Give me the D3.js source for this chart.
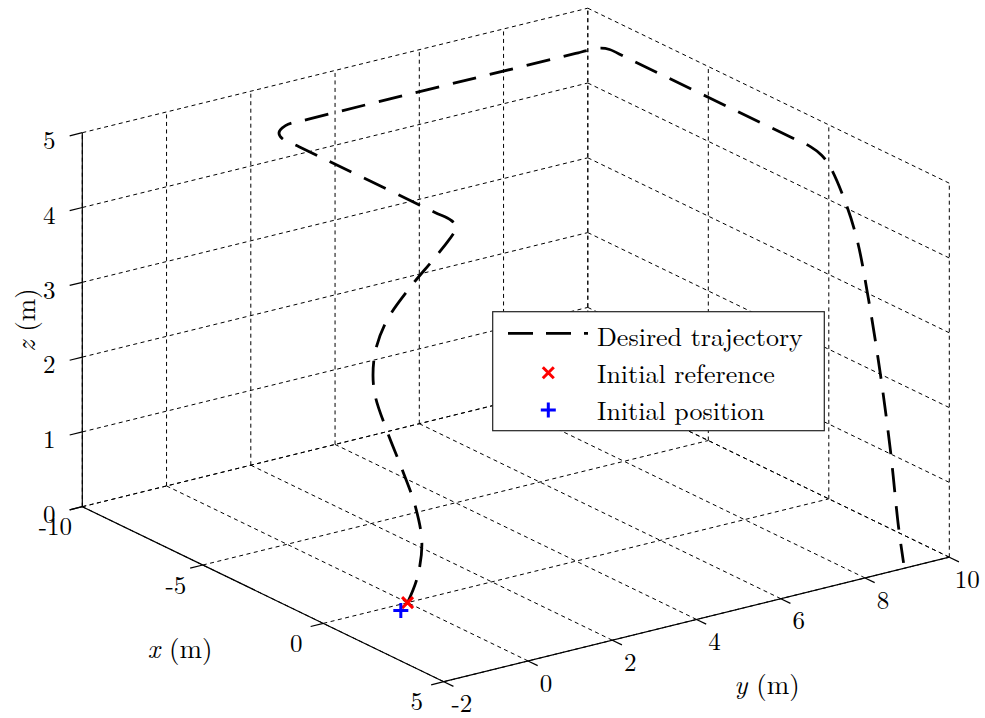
<!DOCTYPE html>
<html>
<head>
<meta charset="utf-8">
<script src="https://cdn.jsdelivr.net/npm/d3@7/dist/d3.min.js"></script>
<style>
body { margin: 0; background: #fff; }
svg text { font-family: "Latin Modern Roman", "CMU Serif", "Liberation Serif", "Tinos", "Noto Serif", "Nimbus Roman", "FreeSerif", "DejaVu Serif", serif; fill: #000; }
</style>
</head>
<body>
<div id="chartArea"></div>
<script>
// axis ticks
var xTicks = [-10, -5, 0, 5];
var yTicks = [-2, 0, 2, 4, 6, 8, 10];
var zTicks = [0, 1, 2, 3, 4, 5];

// desired trajectory (m)
var trajX = [0, 0, 0, 0, 0, 0, 0, 0, 0, 0, 0, 0, 0, 0, 0,
    -0.3, -1, -6.6, -7.3, -7.5, -7.6, -7.6, -7.6, -7.6, -7.6, -7.55, -7.35,
    -6.6, 0.2, 1, 1.45, 1.8, 2.43, 2.92, 3.4, 3.88, 4.3, 4.64, 4.85];
var trajY = [0, 0.23, 0.34, 0.19, -0.13, -0.48, -0.76, -0.82, -0.75, -0.48, 0.05, 0.57, 0.93, 1.1, 1.18,
    1.2, 1.2, 1.2, 1.2, 1.24, 1.45, 2, 8, 8.4, 8.6, 8.9, 9,
    9, 9, 9, 9, 9, 9, 9, 9, 9, 9, 9, 9];
var trajZ = [0, 0.3, 0.75, 1.25, 1.8, 2.35, 2.85, 3.15, 3.5, 3.85, 4.2, 4.48, 4.68, 4.79, 4.86,
    4.9, 4.9, 4.9, 4.9, 4.94, 4.99, 5, 5, 5, 5, 5, 5,
    5, 5, 5, 4.96, 4.86, 4.49, 4.06, 3.33, 2.43, 1.47, 0.49, 0.04];

var initRef = [0, 0, 0];
var initPos = [0.35, -0.36, 0];

var legendItems = ['Desired trajectory', 'Initial reference', 'Initial position'];

var width = 985, height = 718;

var svg = d3.select('#chartArea').append('svg')
    .attr('width', width)
    .attr('height', height);

// orthographic view: each data axis maps onto a screen vector
var xScale = d3.scaleLinear().domain([-10, 5]).range([0, 1]);
var yScale = d3.scaleLinear().domain([-2, 10]).range([0, 1]);
var zScale = d3.scaleLinear().domain([0, 5]).range([0, 1]);
var origin = [82.3, 506.7],
    ex = [361.5, 175],
    ey = [505.5, -124.5],
    ez = [0, -374];

function proj(x, y, z) {
    var a = xScale(x), b = yScale(y), c = zScale(z);
    return [origin[0] + a * ex[0] + b * ey[0] + c * ez[0],
            origin[1] + a * ex[1] + b * ey[1] + c * ez[1]];
}

// grid on the three back planes
var grid = [];
yTicks.forEach(function (y) { grid.push([[-10, y, 0], [-10, y, 5]]); });
zTicks.forEach(function (z) { grid.push([[-10, -2, z], [-10, 10, z]]); });
xTicks.forEach(function (x) { grid.push([[x, 10, 0], [x, 10, 5]]); });
zTicks.forEach(function (z) { grid.push([[-10, 10, z], [5, 10, z]]); });
xTicks.forEach(function (x) { grid.push([[x, -2, 0], [x, 10, 0]]); });
yTicks.forEach(function (y) { grid.push([[-10, y, 0], [5, y, 0]]); });

svg.append('g')
    .attr('class', 'grid')
    .selectAll('line')
    .data(grid)
    .enter()
    .append('line')
    .attr('x1', function (d) { return proj.apply(null, d[0])[0]; })
    .attr('y1', function (d) { return proj.apply(null, d[0])[1]; })
    .attr('x2', function (d) { return proj.apply(null, d[1])[0]; })
    .attr('y2', function (d) { return proj.apply(null, d[1])[1]; })
    .attr('stroke', '#000')
    .attr('stroke-width', 1)
    .attr('stroke-dasharray', '4,3.5');

// axes
var axes = svg.append('g').attr('class', 'axes')
    .attr('stroke', '#000').attr('stroke-width', 1.2).attr('fill', 'none');

function seg(g, p, q) {
    g.append('line')
        .attr('x1', p[0]).attr('y1', p[1])
        .attr('x2', q[0]).attr('y2', q[1]);
}

seg(axes, proj(-10, -2, 0), proj(-10, -2, 5));
seg(axes, proj(-10, -2, 0), proj(5, -2, 0));
seg(axes, proj(5, -2, 0), proj(5, 10, 0));

xTicks.forEach(function (x) { seg(axes, proj(x, -2, 0), proj(x, -2.3, 0)); });
zTicks.forEach(function (z) { seg(axes, proj(-10, -2, z), proj(-10, -2.3, z)); });
yTicks.forEach(function (y) { seg(axes, proj(5, y, 0), proj(5.4, y, 0)); });

var labels = svg.append('g').attr('class', 'tick-labels')
    .attr('font-size', 25).attr('text-anchor', 'middle');

xTicks.forEach(function (x) {
    var p = proj(x, -2, 0);
    labels.append('text').attr('x', p[0] - 27).attr('y', p[1] + 20)
        .attr('dy', '0.35em').text(x);
});
yTicks.forEach(function (y) {
    var p = proj(5, y, 0);
    labels.append('text').attr('x', p[0] + 18).attr('y', p[1] + 22)
        .attr('dy', '0.35em').text(y);
});
zTicks.forEach(function (z) {
    var p = proj(-10, -2, z);
    labels.append('text').attr('x', p[0] - 33).attr('y', p[1] + 7.5)
        .attr('dy', '0.35em').text(z);
});

// axis titles
function axisTitle(sym, x, y, rot) {
    var t = svg.append('text')
        .attr('font-size', 27)
        .attr('text-anchor', 'middle')
        .attr('transform', 'translate(' + x + ',' + y + ')' + (rot ? ' rotate(' + rot + ')' : ''));
    t.append('tspan').attr('font-style', 'italic').text(sym);
    t.append('tspan').text(' (m)');
}
axisTitle('x', 180, 658, 0);
axisTitle('y', 767, 694, 0);
axisTitle('z', 35, 320, -90);

// trajectory
var trajPts = trajX.map(function (x, i) { return proj(x, trajY[i], trajZ[i]); });

var line = d3.line().curve(d3.curveCatmullRom.alpha(0.5));

svg.append('path')
    .attr('d', line(trajPts))
    .attr('fill', 'none')
    .attr('stroke', '#000')
    .attr('stroke-width', 2.8)
    .attr('stroke-dasharray', '24,14');

// markers
function cross(g, p, s, color) {
    g.append('path')
        .attr('d', 'M' + (p[0] - s) + ',' + (p[1] - s) + 'L' + (p[0] + s) + ',' + (p[1] + s) +
            'M' + (p[0] - s) + ',' + (p[1] + s) + 'L' + (p[0] + s) + ',' + (p[1] - s))
        .attr('stroke', color).attr('stroke-width', 3).attr('fill', 'none');
}
function plus(g, p, s, color) {
    g.append('path')
        .attr('d', 'M' + (p[0] - s) + ',' + p[1] + 'L' + (p[0] + s) + ',' + p[1] +
            'M' + p[0] + ',' + (p[1] - s) + 'L' + p[0] + ',' + (p[1] + s))
        .attr('stroke', color).attr('stroke-width', 3).attr('fill', 'none');
}

var marks = svg.append('g').attr('class', 'markers');
cross(marks, proj.apply(null, initRef), 5.5, '#ff0000');
plus(marks, proj.apply(null, initPos), 7.5, '#0000ff');

// legend
var legend = svg.append('g').attr('class', 'legend');
legend.append('rect')
    .attr('x', 492.7).attr('y', 311.7)
    .attr('width', 331.6).attr('height', 119)
    .attr('fill', '#fff').attr('stroke', '#222').attr('stroke-width', 1.2);

legend.append('line')
    .attr('x1', 508).attr('y1', 333.3).attr('x2', 588).attr('y2', 333.3)
    .attr('stroke', '#000').attr('stroke-width', 2.8)
    .attr('stroke-dasharray', '25,13');
cross(legend, [548.3, 372.7], 5.5, '#ff0000');
plus(legend, [548.3, 410], 7.5, '#0000ff');

legend.selectAll('text.entry')
    .data(legendItems)
    .enter()
    .append('text')
    .attr('class', 'entry')
    .attr('x', 597)
    .attr('y', function (d, i) { return 345.5 + i * 37.2; })
    .attr('font-size', 26)
    .text(function (d) { return d; });
</script>
</body>
</html>
